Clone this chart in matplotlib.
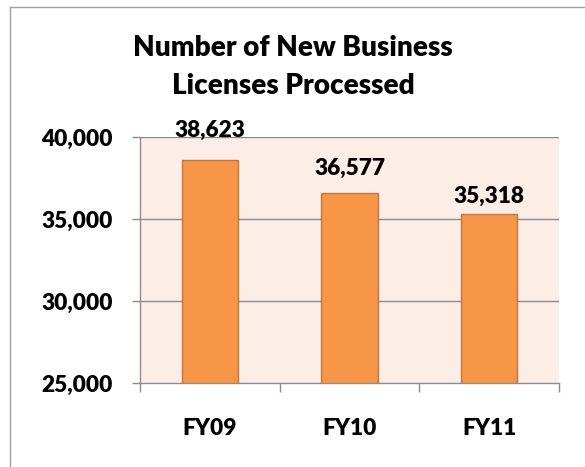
import matplotlib
matplotlib.use("Agg")
import matplotlib.pyplot as plt
from matplotlib.lines import Line2D

# data
years = ["FY09", "FY10", "FY11"]
licenses = [38623, 36577, 35318]
yticks = [25000, 30000, 35000, 40000]

BAR, EDGE, BG, GRID = "#F79646", "#C0773C", "#FDEDE7", "#8C8C8C"
WT = "heavy"
plt.rcParams.update({"font.family": ["Lato", "DejaVu Sans"], "font.weight": WT})

W, H = 585, 467
fig = plt.figure(figsize=(W / 100, H / 100), dpi=100)
ax = fig.add_axes([140 / W, 1 - 383 / H, (559 - 140) / W, (383 - 137) / H])
ax.set_facecolor(BG)

x = range(len(years))
ax.bar(x, licenses, width=0.405, color=BAR, edgecolor=EDGE, linewidth=1.0, zorder=3)

ax.set_ylim(yticks[0], yticks[-1])
ax.set_xlim(-0.5, len(years) - 0.5)
ax.set_yticks(yticks)
ax.set_yticklabels([f"{v:,}" for v in yticks], fontsize=16.3, fontweight=WT)
for v in yticks[1:]:
    ax.axhline(v, color=GRID, lw=1.0, zorder=1)

# category boundary ticks, labels in the middle
ax.set_xticks([i - 0.5 for i in range(len(years) + 1)])
ax.set_xticklabels([])
ax.set_xticks(list(x), minor=True)
ax.set_xticklabels(years, minor=True, fontsize=16.3, fontweight=WT)
ax.tick_params(axis="x", which="major", length=6.5, color=GRID, width=1.0)
ax.tick_params(axis="x", which="minor", length=0, pad=25.5)
ax.tick_params(axis="y", length=6, color=GRID, width=1.0, pad=13.5)

for s in ("top", "right"):
    ax.spines[s].set_visible(False)
for s in ("left", "bottom"):
    ax.spines[s].set_color(GRID)
    ax.spines[s].set_linewidth(1.0)
    ax.spines[s].set_zorder(4)

label_gap = [16.5, 13, 8]  # points above bar top
for i, v in enumerate(licenses):
    ax.annotate(f"{v:,}", (i, v), xytext=(0, label_gap[i]), textcoords="offset points",
                ha="center", va="baseline", fontsize=16.3, fontweight=WT, zorder=5)

fig.text(293 / W, 1 - 56 / H, "Number of New Business", ha="center", va="baseline",
         fontsize=20.1, fontweight=WT)
fig.text(293 / W, 1 - 94 / H, "Licenses Processed", ha="center", va="baseline",
         fontsize=20.1, fontweight=WT)

# chart frame (left and top edges are inside the picture)
fig.add_artist(Line2D([10 / W, 10 / W], [0, 1 - 7 / H], color="#A0A0A0", lw=1.0))
fig.add_artist(Line2D([10 / W, 1], [1 - 7 / H, 1 - 7 / H], color="#A0A0A0", lw=1.0))

fig.savefig("out.png", dpi=100)
